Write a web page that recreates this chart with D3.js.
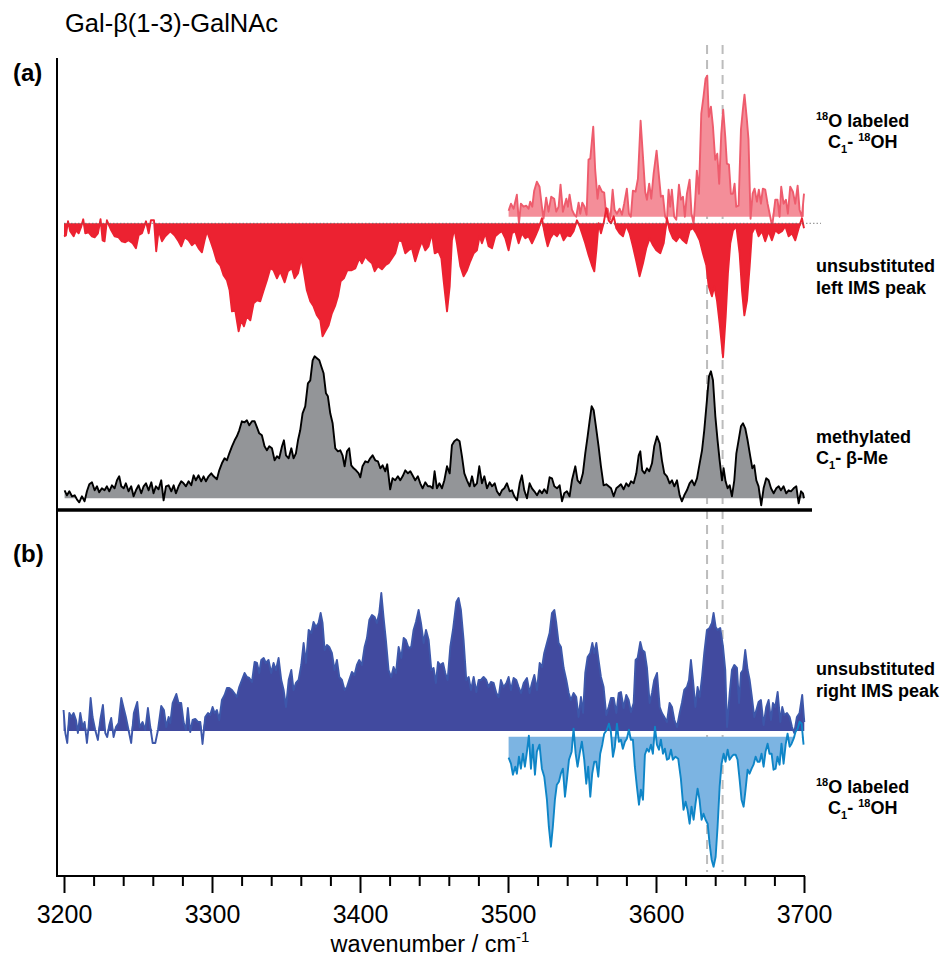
<!DOCTYPE html>
<html>
<head>
<meta charset="utf-8">
<script src="https://cdn.jsdelivr.net/npm/d3@7"></script>
<style>
  body { margin: 0; background: #fff; }
  svg { display: block; font-family: "Liberation Sans", Arial, sans-serif; }
</style>
</head>
<body>
<svg id="chart" width="942" height="967"></svg>
<script>
// spectra: [wavenumber (cm-1), intensity (a.u.)]
const labeled18OTop = [[3500.4,6],[3502.0,13],[3503.8,8],[3506.0,22],[3507.4,-7],[3508.7,13],[3510.5,10],[3512.3,11],[3513.9,8],[3515.0,15],[3516.4,10],[3517.7,26],[3519.5,35],[3521.3,30],[3522.9,10],[3524.0,-2],[3525.8,19],[3527.4,5],[3529.2,20],[3531.2,18],[3532.6,5],[3534.2,10],[3535.5,32],[3537.1,5],[3539.4,18],[3540.5,10],[3541.6,22],[3543.2,7],[3544.8,2],[3546.1,0],[3547.7,14],[3548.8,3],[3550.2,14],[3551.7,10],[3553.1,2],[3554.4,57],[3555.6,58],[3557.6,90],[3558.9,47],[3560.5,18],[3561.6,31],[3563.5,25],[3565.0,24],[3566.4,0],[3567.3,8],[3569.1,-3],[3570.7,27],[3572.0,7],[3573.6,3],[3575.4,8],[3577.0,2],[3578.5,13],[3580.3,28],[3581.7,3],[3583.0,0],[3584.4,26],[3586.2,25],[3587.8,38],[3589.6,96],[3591.2,60],[3592.7,25],[3593.9,17],[3595.4,33],[3596.8,18],[3598.4,43],[3600.4,66],[3601.7,45],[3603.3,20],[3604.7,21],[3606.2,0],[3607.4,-3],[3608.5,27],[3609.6,10],[3610.7,27],[3612.3,0],[3613.7,-3],[3615.5,32],[3616.8,17],[3618.2,20],[3619.5,0],[3620.9,23],[3622.7,37],[3624.0,3],[3625.4,-7],[3626.5,17],[3627.6,46],[3629.0,23],[3630.6,103],[3632.1,120],[3633.5,138],[3634.6,141],[3635.7,100],[3637.1,110],[3638.5,90],[3640.0,57],[3641.4,63],[3642.7,33],[3644.1,83],[3645.4,107],[3646.8,80],[3647.9,53],[3649.3,52],[3650.6,23],[3652.0,23],[3653.1,33],[3654.2,10],[3655.8,11],[3657.4,87],[3658.7,107],[3659.8,122],[3661.4,97],[3662.5,77],[3663.9,-2],[3665.3,23],[3666.6,28],[3668.2,15],[3669.5,27],[3670.9,13],[3672.2,28],[3673.8,27],[3675.4,13],[3677.2,0],[3678.5,-10],[3680.6,17],[3682.1,17],[3683.5,0],[3684.6,30],[3686.2,13],[3687.8,17],[3689.1,3],[3690.7,30],[3692.5,25],[3694.1,13],[3695.7,31],[3697.0,7],[3698.6,0],[3700.0,23]];

const leftIMS = [[3200,13],[3201.3,12],[3202.7,-2],[3204.2,8],[3206.5,13],[3208.1,7],[3209.9,10],[3211.7,3],[3213.0,-4],[3214.4,10],[3216.6,9],[3218.9,13],[3220.7,14],[3222.9,10],[3224.7,-4],[3226.1,17],[3227.4,18],[3229.0,-3],[3230.1,1],[3231.9,7],[3234.2,13],[3236.9,14],[3239.1,18],[3241.4,19],[3243.6,17],[3246.4,20],[3248.6,25],[3250.4,12],[3252.7,10],[3255.4,-2],[3257.2,10],[3258.7,-3],[3260.8,-3],[3262.3,28],[3263.9,7],[3266.2,18],[3268.4,13],[3271.8,8],[3274.7,12],[3277.4,18],[3279.2,23],[3281.5,14],[3284.2,17],[3286.4,22],[3288.7,19],[3291.0,25],[3293.2,29],[3295.0,17],[3296.6,8],[3298.8,17],[3301.1,27],[3303.3,38],[3305.6,42],[3307.8,52],[3310.1,57],[3311.9,67],[3313.5,88],[3315.7,87],[3318.0,108],[3319.8,97],[3321.6,103],[3323.6,93],[3325.9,97],[3328.1,80],[3330.4,77],[3332.6,78],[3334.9,67],[3337.1,57],[3339.4,45],[3341.6,47],[3343.9,55],[3346.1,48],[3349.1,59],[3351.3,48],[3354.0,45],[3355.8,55],[3358.1,50],[3360.3,35],[3361.9,47],[3364.1,67],[3366.4,78],[3368.6,83],[3370.9,92],[3373.2,97],[3374.7,113],[3376.5,108],[3378.8,102],[3381.0,90],[3383.3,82],[3385.1,73],[3386.9,58],[3389.1,55],[3391.4,47],[3394.1,47],[3396.8,45],[3399.5,35],[3401.3,40],[3403.6,33],[3405.8,37],[3408.1,40],[3409.9,48],[3412.1,43],[3414.8,46],[3417.1,42],[3419.3,40],[3421.6,35],[3423.8,30],[3426.1,17],[3428.3,18],[3430.6,30],[3432.8,27],[3435.1,25],[3437.3,38],[3439.6,27],[3441.8,18],[3444.1,27],[3446.3,23],[3448.6,10],[3450.5,30],[3453.0,28],[3455.0,35],[3456.5,57],[3458.8,88],[3460.6,63],[3462.1,17],[3463.7,5],[3465.5,20],[3467.8,43],[3470.0,53],[3472.3,47],[3474.5,38],[3476.8,30],[3479.0,27],[3480.8,13],[3482.4,20],[3484.7,10],[3486.9,23],[3489.2,25],[3491.4,13],[3493.7,10],[3495.9,8],[3498.2,15],[3500.4,27],[3502.7,10],[3504.9,8],[3507.2,20],[3509.4,10],[3511.7,15],[3513.9,13],[3516.2,20],[3518.4,13],[3520.7,5],[3522.9,-5],[3525.2,13],[3526.8,23],[3528.6,15],[3530.8,10],[3533.1,13],[3535.3,8],[3537.6,17],[3539.8,12],[3542.1,13],[3544.3,8],[3546.6,-3],[3548.4,3],[3550.0,10],[3552.2,20],[3554.5,32],[3556.7,42],[3558.3,48],[3559.7,27],[3561.2,0],[3562.8,10],[3564.6,0],[3566.4,-15],[3568.0,-3],[3569.6,0],[3571.4,-7],[3573.2,5],[3575.4,10],[3577.7,13],[3579.9,2],[3582.2,10],[3584.4,23],[3586.7,38],[3588.9,53],[3591.2,40],[3593.4,25],[3595.7,15],[3598.0,22],[3600.2,27],[3602.9,30],[3605.2,20],[3607.4,-5],[3609.2,7],[3611.5,15],[3613.7,18],[3616.0,13],[3618.2,17],[3620.5,20],[3622.7,7],[3625.0,5],[3627.2,10],[3629.5,17],[3631.7,30],[3634.0,42],[3635.6,63],[3637.8,73],[3639.4,63],[3641.2,77],[3643.0,100],[3645.3,134],[3647.1,93],[3648.6,50],[3650.2,20],[3652.0,7],[3654.3,3],[3656.5,30],[3658.1,67],[3659.7,92],[3661.5,77],[3663.3,43],[3664.8,10],[3667.1,3],[3669.3,13],[3671.6,8],[3673.8,18],[3676.1,8],[3678.3,17],[3680.6,7],[3682.9,10],[3685.1,8],[3687.4,3],[3689.6,13],[3691.9,10],[3694.1,17],[3696.4,5],[3698.6,-5],[3700,5]];

const methylated = [[3200.4,8],[3202.0,3],[3203.6,7],[3205.4,2],[3207.2,3],[3208.7,-1],[3210.3,-4],[3212.1,2],[3213.9,-3],[3215.5,7],[3217.1,14],[3218.9,16],[3220.7,8],[3222.3,12],[3223.8,6],[3225.6,10],[3227.4,8],[3229.0,12],[3230.6,7],[3232.4,13],[3234.2,10],[3235.8,18],[3237.3,22],[3238.7,12],[3240.3,10],[3241.8,15],[3243.6,7],[3245.4,12],[3247.0,2],[3248.6,8],[3250.4,13],[3252.2,5],[3253.8,12],[3255.4,15],[3257.2,8],[3259.0,16],[3260.5,5],[3262.1,12],[3263.9,9],[3265.7,18],[3267.3,-2],[3268.9,12],[3270.7,13],[3272.5,7],[3274.1,13],[3275.6,5],[3277.4,12],[3279.2,17],[3280.8,15],[3282.4,12],[3284.2,17],[3286.0,13],[3287.6,23],[3289.1,18],[3290.9,23],[3292.7,17],[3294.3,22],[3295.9,17],[3297.7,22],[3299.5,25],[3301.1,22],[3303.3,19],[3304.9,28],[3306.7,35],[3308.5,40],[3310.1,38],[3311.7,45],[3313.5,52],[3315.3,58],[3316.8,62],[3318.4,68],[3320.2,77],[3322.0,76],[3323.6,78],[3325.2,73],[3327.0,77],[3328.8,77],[3330.4,71],[3331.9,65],[3333.7,63],[3335.5,52],[3337.1,48],[3338.7,52],[3340.5,50],[3342.3,38],[3343.9,42],[3345.4,40],[3347.3,52],[3348.6,58],[3350.0,43],[3351.8,40],[3353.6,50],[3355.1,40],[3356.7,45],[3358.1,58],[3359.6,68],[3361.2,85],[3363.0,92],[3364.8,115],[3366.4,118],[3368.0,138],[3369.3,142],[3370.9,140],[3372.5,138],[3373.8,132],[3375.4,125],[3377.0,105],[3378.3,102],[3379.9,85],[3381.5,75],[3383.3,50],[3385.1,47],[3386.7,48],[3388.2,43],[3389.6,32],[3391.2,47],[3392.7,50],[3394.1,33],[3395.7,30],[3397.3,28],[3399.1,25],[3400.2,21],[3401.7,32],[3403.6,37],[3405.4,36],[3406.9,40],[3408.5,43],[3410.3,38],[3412.1,37],[3413.7,30],[3415.3,33],[3417.1,27],[3418.4,34],[3420.4,9],[3422.0,20],[3423.8,18],[3425.6,22],[3427.2,18],[3428.8,22],[3430.6,28],[3432.4,25],[3434.0,27],[3435.5,23],[3437.3,18],[3439.1,22],[3440.7,15],[3442.3,10],[3444.1,16],[3445.9,12],[3447.5,12],[3449.1,10],[3450.4,27],[3452.0,10],[3453.6,15],[3455.4,10],[3457.0,18],[3458.8,32],[3460.6,25],[3462.1,53],[3463.7,57],[3465.5,59],[3467.3,57],[3468.9,42],[3470.5,25],[3472.3,18],[3474.1,12],[3475.7,22],[3477.2,12],[3479.0,15],[3480.6,32],[3482.4,15],[3484.0,22],[3485.8,10],[3487.6,16],[3489.2,12],[3491.0,15],[3492.5,7],[3494.3,3],[3495.9,8],[3497.5,10],[3499.3,15],[3501.1,7],[3502.7,8],[3504.3,2],[3506.1,-2],[3507.9,15],[3509.4,23],[3511.0,8],[3512.8,0],[3514.6,15],[3516.2,10],[3517.8,7],[3519.6,3],[3521.4,8],[3523.0,5],[3524.5,9],[3526.3,5],[3528.1,21],[3529.7,20],[3531.3,12],[3533.1,10],[3534.9,13],[3536.5,-3],[3538.0,5],[3539.8,7],[3541.6,2],[3543.2,18],[3545.5,32],[3547.0,18],[3548.8,15],[3550.6,25],[3552.2,45],[3553.8,62],[3555.2,78],[3556.5,92],[3557.9,88],[3559.4,72],[3561.2,52],[3562.8,32],[3564.6,13],[3566.4,14],[3568.0,12],[3569.6,10],[3571.4,2],[3573.2,10],[3574.8,12],[3576.3,14],[3578.1,9],[3579.9,15],[3581.5,12],[3583.1,17],[3584.9,15],[3586.7,25],[3588.3,43],[3589.4,47],[3590.7,28],[3592.3,25],[3593.9,30],[3595.5,27],[3597.3,35],[3598.8,52],[3600.7,62],[3602.5,55],[3604.0,38],[3605.6,25],[3607.4,22],[3609.2,15],[3610.8,18],[3612.4,12],[3614.2,18],[3616.0,3],[3617.5,-3],[3619.1,3],[3620.9,8],[3622.7,15],[3624.3,18],[3625.9,13],[3627.7,20],[3629.5,35],[3631.1,48],[3632.6,68],[3634.4,98],[3635.8,122],[3637.1,127],[3638.5,118],[3640.1,82],[3641.6,58],[3643.0,38],[3644.6,18],[3645.7,30],[3647.0,17],[3648.4,10],[3649.8,13],[3651.3,2],[3652.9,18],[3654.3,45],[3655.8,58],[3657.4,72],[3658.8,75],[3660.3,70],[3661.9,58],[3663.7,42],[3665.1,30],[3666.4,33],[3667.8,18],[3669.3,12],[3671.1,-7],[3672.7,10],[3674.5,20],[3676.1,18],[3677.7,10],[3679.5,5],[3681.3,10],[3682.9,12],[3684.4,8],[3686.2,12],[3688.0,5],[3689.6,8],[3691.2,7],[3693.0,10],[3694.8,12],[3696.4,-5],[3698.0,7],[3699.3,5],[3700,0]];

const rightIMS = [[3199.7,21],[3200.9,-2],[3202.2,-12],[3203.6,18],[3204.9,14],[3206.5,18],[3208.1,11],[3209.4,-2],[3211.0,18],[3212.6,4],[3213.9,9],[3215.5,-12],[3216.6,4],[3218.0,33],[3219.3,14],[3221.1,1],[3222.9,-9],[3224.5,11],[3226.3,26],[3227.9,-2],[3229.2,-6],[3230.6,6],[3231.9,13],[3233.5,-6],[3235.1,4],[3236.9,8],[3238.7,33],[3240.3,23],[3241.8,14],[3243.6,1],[3245.4,-12],[3247.2,18],[3249.5,29],[3251.1,4],[3253.1,9],[3254.9,1],[3256.7,23],[3258.3,4],[3259.9,-12],[3261.7,-12],[3263.5,1],[3265.7,25],[3267.5,21],[3269.1,4],[3270.7,14],[3271.8,8],[3273.4,28],[3275.9,37],[3277.4,28],[3279.2,28],[3280.8,9],[3282.4,1],[3283.7,23],[3285.3,-1],[3286.9,11],[3288.7,12],[3290.5,9],[3292.1,9],[3293.6,-13],[3295.4,14],[3297.3,18],[3298.8,16],[3300.4,24],[3301.8,18],[3303.3,21],[3304.9,11],[3306.7,31],[3308.5,36],[3310.1,43],[3311.7,43],[3313.5,41],[3315.0,38],[3316.8,34],[3318.4,44],[3320.2,51],[3322.0,58],[3323.6,54],[3325.2,53],[3327.0,49],[3328.8,69],[3330.4,68],[3331.9,58],[3333.3,71],[3334.9,73],[3336.4,68],[3338.2,71],[3340.0,58],[3341.6,68],[3343.2,61],[3345.0,73],[3346.8,51],[3348.4,41],[3350.0,24],[3351.8,51],[3353.6,61],[3355.1,41],[3356.7,48],[3358.5,51],[3360.3,66],[3361.9,88],[3363.5,68],[3365.3,101],[3367.1,98],[3368.6,109],[3370.2,104],[3372.0,108],[3373.4,118],[3374.7,108],[3376.1,81],[3377.7,86],[3379.2,84],[3381.0,78],[3382.8,61],[3384.4,71],[3386.0,54],[3387.8,51],[3389.6,41],[3391.2,44],[3392.7,51],[3394.5,59],[3396.3,56],[3397.9,66],[3399.5,71],[3401.3,66],[3403.1,84],[3404.7,93],[3406.3,111],[3408.1,116],[3409.9,114],[3411.4,108],[3413.0,118],[3414.4,138],[3415.9,114],[3417.5,91],[3419.3,61],[3421.1,54],[3422.7,64],[3424.3,58],[3426.1,84],[3427.9,73],[3429.5,93],[3431.0,91],[3432.8,83],[3434.6,84],[3436.2,101],[3437.8,109],[3439.6,121],[3441.2,108],[3443.0,88],[3444.6,101],[3446.4,91],[3448.2,61],[3449.7,63],[3451.3,48],[3452.7,69],[3454.2,66],[3456.1,68],[3457.6,58],[3459.2,51],[3461.0,84],[3462.8,101],[3465.1,129],[3466.6,133],[3468.2,121],[3470.0,91],[3471.8,51],[3473.4,54],[3475.0,41],[3476.8,54],[3478.6,39],[3480.2,51],[3481.7,51],[3483.5,54],[3485.3,51],[3486.9,44],[3488.5,49],[3490.3,48],[3492.1,38],[3493.7,34],[3495.2,51],[3497.0,44],[3498.9,48],[3500.4,54],[3502.0,41],[3503.8,53],[3505.6,51],[3507.2,44],[3508.8,38],[3510.6,48],[3512.8,53],[3514.6,38],[3516.2,48],[3517.8,56],[3519.6,41],[3521.4,68],[3523.0,64],[3524.5,78],[3526.3,88],[3528.1,98],[3529.7,118],[3531.3,121],[3532.6,108],[3534.2,88],[3535.8,84],[3537.6,63],[3539.4,51],[3541.0,38],[3542.5,31],[3544.3,38],[3546.1,34],[3547.7,14],[3549.3,34],[3550.7,18],[3552.2,58],[3553.8,74],[3555.6,78],[3557.0,88],[3558.3,78],[3559.7,88],[3561.2,71],[3562.8,54],[3564.6,44],[3566.4,16],[3568.0,24],[3569.6,33],[3571.4,33],[3573.2,18],[3574.8,38],[3576.3,39],[3578.1,23],[3579.9,36],[3581.5,31],[3583.1,19],[3584.9,28],[3586.2,71],[3587.6,73],[3589.4,89],[3590.7,81],[3592.3,79],[3593.9,63],[3595.7,28],[3597.3,38],[3598.8,51],[3600.7,58],[3602.5,24],[3604.0,18],[3605.6,14],[3607.4,9],[3609.2,28],[3610.8,24],[3612.4,11],[3614.2,4],[3616.0,18],[3617.5,28],[3619.1,41],[3620.9,44],[3622.3,51],[3623.6,71],[3625.0,51],[3626.6,24],[3628.1,44],[3629.5,34],[3631.1,54],[3632.6,78],[3634.4,101],[3636.2,103],[3637.8,108],[3638.9,118],[3640.3,104],[3641.6,101],[3643.4,103],[3645.3,84],[3646.8,61],[3648.0,4],[3649.8,38],[3651.3,61],[3652.9,66],[3654.7,63],[3656.1,28],[3657.4,58],[3658.8,61],[3660.3,81],[3661.9,61],[3663.3,51],[3664.8,34],[3666.4,14],[3667.8,21],[3669.3,29],[3670.9,31],[3672.7,6],[3674.5,24],[3676.1,31],[3677.7,11],[3679.0,28],[3680.6,24],[3682.2,39],[3684.0,9],[3685.3,24],[3686.7,16],[3688.5,18],[3690.3,14],[3691.9,4],[3693.4,-2],[3695.2,14],[3697.0,18],[3698.8,36],[3700.2,9]];

const labeled18OBottom = [[3500.4,21],[3502.0,27],[3503.3,38],[3504.9,30],[3506.0,37],[3507.4,20],[3508.7,32],[3510.1,17],[3511.4,30],[3512.8,15],[3514.1,-1],[3515.5,32],[3516.8,8],[3518.2,38],[3519.5,15],[3521.3,8],[3522.9,32],[3524.5,40],[3526.3,63],[3527.6,90],[3529.0,110],[3530.3,90],[3531.7,63],[3533.0,48],[3534.4,45],[3535.7,37],[3537.1,32],[3538.5,60],[3539.8,43],[3541.2,23],[3543.0,15],[3544.3,-8],[3545.7,17],[3547.0,30],[3548.4,17],[3549.9,5],[3551.5,23],[3552.9,47],[3554.2,30],[3555.6,60],[3556.9,37],[3558.3,25],[3559.6,25],[3561.0,40],[3562.3,17],[3563.7,8],[3565.0,-3],[3566.8,-7],[3568.2,-13],[3569.5,-5],[3570.9,20],[3572.2,10],[3573.6,-13],[3574.9,5],[3576.3,3],[3577.6,12],[3579.0,5],[3580.3,2],[3581.7,-7],[3583.0,3],[3584.4,3],[3585.7,30],[3587.1,50],[3588.5,68],[3589.8,53],[3591.2,63],[3592.5,18],[3593.9,12],[3595.2,15],[3596.6,8],[3597.9,17],[3599.3,-10],[3600.6,8],[3602.0,13],[3603.3,3],[3604.7,17],[3606.0,12],[3607.4,23],[3608.7,22],[3610.1,13],[3611.4,23],[3613.2,20],[3615.0,22],[3616.8,42],[3618.6,73],[3620.0,65],[3621.3,73],[3622.7,87],[3624.0,70],[3625.4,83],[3626.7,67],[3628.1,52],[3629.4,63],[3630.8,83],[3632.1,77],[3633.5,83],[3634.9,87],[3636.2,107],[3637.6,123],[3638.9,130],[3640.3,120],[3641.6,90],[3643.0,50],[3644.3,27],[3645.7,17],[3647.0,25],[3648.4,13],[3649.7,23],[3651.1,20],[3652.4,18],[3653.8,18],[3655.1,23],[3656.5,43],[3657.8,63],[3659.2,70],[3660.5,53],[3661.9,33],[3663.2,37],[3664.6,32],[3665.9,28],[3667.3,20],[3668.6,25],[3670.0,25],[3671.3,17],[3672.7,30],[3674.0,15],[3675.4,7],[3676.7,17],[3678.1,17],[3679.4,33],[3680.8,32],[3682.1,20],[3683.5,28],[3684.8,7],[3686.2,27],[3687.6,8],[3688.9,-3],[3690.3,10],[3691.6,7],[3693.0,2],[3694.3,-5],[3695.7,-8],[3697.0,-15],[3698.4,-13],[3699.7,8]];

const xTicks = d3.range(3200, 3701, 20);
const markerLines = [3634.5, 3645];
const panelLabels = ["(a)", "(b)"];

const svg = d3.select("#chart");
const x = d3.scaleLinear().domain([3200, 3700]).range([64, 804]);

const axisY = 876, axisLeft = 57;
const labelSize = 18, supSize = 11;

// dashed guide lines behind the spectra
svg.selectAll(".marker")
  .data(markerLines)
  .enter()
  .append("line")
  .attr("x1", d => x(d)).attr("x2", d => x(d))
  .attr("y1", 45).attr("y2", 872)
  .attr("stroke", "#bcbcbc")
  .attr("stroke-width", 2)
  .attr("stroke-dasharray", "9,6");

function drawTrace(data, o) {
  // dir -1: peaks up, dir 1: peaks drawn downwards
  const y = d3.scaleLinear().domain([0, 100]).range([o.base, o.base + o.dir * 100]);
  const area = d3.area()
    .x(d => x(d[0]))
    .y0(o.base)
    .y1(d => y(Math.max(0, d[1])));
  const line = d3.line()
    .x(d => x(d[0]))
    .y(d => y(d[1]));
  svg.append("path").datum(data).attr("d", area).attr("fill", o.fill);
  svg.append("path").datum(data).attr("d", line)
    .attr("fill", "none")
    .attr("stroke", o.stroke)
    .attr("stroke-width", o.width || 1.9)
    .attr("stroke-linejoin", "round");
}

drawTrace(labeled18OTop, { base: 216.7, dir: -1, fill: "#f48e99", stroke: "#ee5c6d" });
drawTrace(leftIMS, { base: 223.3, dir: 1, fill: "#ec2231", stroke: "#ec2231" });

// dotted zero line of the inverted trace
svg.append("line")
  .attr("x1", x(3200)).attr("x2", 821)
  .attr("y1", 223.3).attr("y2", 223.3)
  .attr("stroke", "#666")
  .attr("stroke-width", 0.8)
  .attr("stroke-dasharray", "1.5,2");

drawTrace(methylated, { base: 498.3, dir: -1, fill: "#939598", stroke: "#000", width: 1.9 });
drawTrace(rightIMS, { base: 731, dir: -1, fill: "#414a9f", stroke: "#3d57aa" });
drawTrace(labeled18OBottom, { base: 736.7, dir: 1, fill: "#7cb4e2", stroke: "#0e85c7" });

// axes frame
svg.append("line")
  .attr("x1", axisLeft).attr("x2", axisLeft)
  .attr("y1", 58).attr("y2", axisY + 1)
  .attr("stroke", "#000").attr("stroke-width", 2);
svg.append("line")
  .attr("x1", axisLeft).attr("x2", 812)
  .attr("y1", 510).attr("y2", 510)
  .attr("stroke", "#000").attr("stroke-width", 3.5);

const xAxis = d3.axisBottom(x)
  .tickValues(xTicks)
  .tickSize(17)
  .tickFormat(d => d % 100 === 0 ? d : "");

const xg = svg.append("g")
  .attr("transform", `translate(0,${axisY})`)
  .call(xAxis);
xg.select(".domain").remove();
xg.selectAll(".tick line")
  .attr("stroke", "#000")
  .attr("stroke-width", 2)
  .attr("y2", d => d % 100 === 0 ? 17 : 10);
xg.selectAll(".tick text")
  .attr("dy", null)
  .attr("y", 47)
  .attr("fill", "#000")
  .attr("font-size", 25)
  .attr("font-family", "Liberation Sans, Arial, sans-serif");
svg.append("line")
  .attr("x1", axisLeft).attr("x2", 805)
  .attr("y1", axisY).attr("y2", axisY)
  .attr("stroke", "#000").attr("stroke-width", 2);

const xLabel = svg.append("text")
  .attr("x", 430).attr("y", 952)
  .attr("text-anchor", "middle")
  .attr("font-size", 23.5);
xLabel.append("tspan").text("wavenumber / cm");
xLabel.append("tspan").attr("font-size", 15).attr("dy", -10).text("-1");

// title and panel letters
svg.append("text")
  .attr("x", 65).attr("y", 32)
  .attr("font-size", 25.5)
  .text("Gal-β(1-3)-GalNAc");
svg.selectAll(".panel")
  .data(panelLabels)
  .enter()
  .append("text")
  .attr("x", 13)
  .attr("y", (d, i) => i === 0 ? 81 : 562)
  .attr("font-size", 24)
  .attr("font-weight", "bold")
  .text(d => d);

// trace labels on the right
function label18O(yTop) {
  const t1 = svg.append("text").attr("x", 816).attr("y", yTop)
    .attr("font-size", labelSize).attr("font-weight", "bold");
  t1.append("tspan").attr("font-size", supSize).attr("dy", -7).text("18");
  t1.append("tspan").attr("dy", 7).text("O labeled");
  const t2 = svg.append("text").attr("x", 828).attr("y", yTop + 21)
    .attr("font-size", labelSize).attr("font-weight", "bold");
  t2.append("tspan").text("C");
  t2.append("tspan").attr("font-size", supSize).attr("dy", 5).text("1");
  t2.append("tspan").attr("dy", -5).text("- ");
  t2.append("tspan").attr("font-size", supSize).attr("dy", -7).text("18");
  t2.append("tspan").attr("dy", 7).text("OH");
}
label18O(127);
label18O(793);

function label2(lines, yTop) {
  lines.forEach((s, i) => {
    svg.append("text").attr("x", 816).attr("y", yTop + i * 22)
      .attr("font-size", labelSize).attr("font-weight", "bold").text(s);
  });
}
label2(["unsubstituted", "left IMS peak"], 272);
label2(["unsubstituted", "right IMS peak"], 675);

svg.append("text").attr("x", 816).attr("y", 443)
  .attr("font-size", labelSize).attr("font-weight", "bold").text("methylated");
const me2 = svg.append("text").attr("x", 816).attr("y", 464)
  .attr("font-size", labelSize).attr("font-weight", "bold");
me2.append("tspan").text("C");
me2.append("tspan").attr("font-size", supSize).attr("dy", 5).text("1");
me2.append("tspan").attr("dy", -5).text("- β-Me");
</script>
</body>
</html>
